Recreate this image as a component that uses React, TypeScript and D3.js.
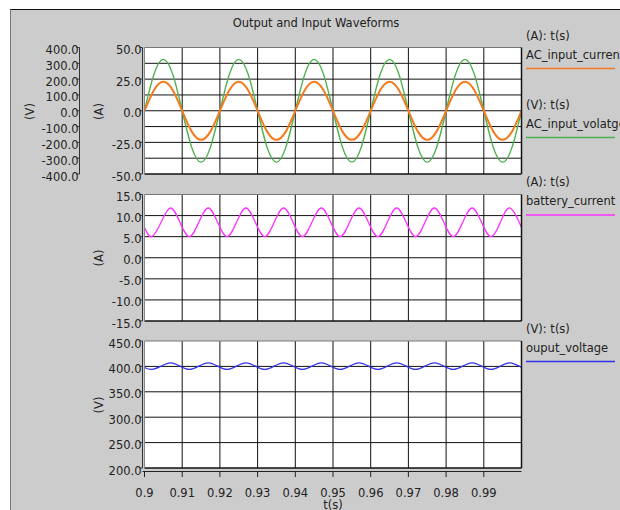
import React from 'react';
import * as d3 from 'd3';

// time samples (s)
const acTime = [
  0.9, 0.9025, 0.905, 0.9075, 0.91, 0.9125, 0.915, 0.9175, 0.92, 0.9225, 0.925, 0.9275,
  0.93, 0.9325, 0.935, 0.9375, 0.94, 0.9425, 0.945, 0.9475, 0.95, 0.9525, 0.955, 0.9575,
  0.96, 0.9625, 0.965, 0.9675, 0.97, 0.9725, 0.975, 0.9775, 0.98, 0.9825, 0.985, 0.9875,
  0.99, 0.9925, 0.995, 0.9975, 1.0,
];
const acInputCurrent = [
  0, 16.3, 23, 16.3, 0, -16.3, -23, -16.3, 0, 16.3, 23, 16.3, 0, -16.3, -23, -16.3,
  0, 16.3, 23, 16.3, 0, -16.3, -23, -16.3, 0, 16.3, 23, 16.3, 0, -16.3, -23, -16.3,
  0, 16.3, 23, 16.3, 0, -16.3, -23, -16.3, 0,
];
const acInputVoltage = [
  0, 230, 325, 230, 0, -230, -325, -230, 0, 230, 325, 230, 0, -230, -325, -230,
  0, 230, 325, 230, 0, -230, -325, -230, 0, 230, 325, 230, 0, -230, -325, -230,
  0, 230, 325, 230, 0, -230, -325, -230, 0,
];

const dcTime = [
  0.9, 0.9019, 0.9044, 0.9069, 0.9094, 0.9119, 0.9144, 0.9169, 0.9194, 0.9219, 0.9244,
  0.9269, 0.9294, 0.9319, 0.9344, 0.9369, 0.9394, 0.9419, 0.9444, 0.9469, 0.9494, 0.9519,
  0.9544, 0.9569, 0.9594, 0.9619, 0.9644, 0.9669, 0.9694, 0.9719, 0.9744, 0.9769, 0.9794,
  0.9819, 0.9844, 0.9869, 0.9894, 0.9919, 0.9944, 0.9969, 0.9994, 1.0,
];
const batteryCurrent = [
  7.15, 5.0, 8.4, 11.8, 8.4, 5.0, 8.4, 11.8, 8.4, 5.0, 8.4, 11.8, 8.4, 5.0, 8.4, 11.8, 8.4,
  5.0, 8.4, 11.8, 8.4, 5.0, 8.4, 11.8, 8.4, 5.0, 8.4, 11.8, 8.4, 5.0, 8.4, 11.8, 8.4,
  5.0, 8.4, 11.8, 8.4, 5.0, 8.4, 11.8, 8.4, 7.15,
];
const outputVoltage = [
  398, 394, 400.5, 407, 400.5, 394, 400.5, 407, 400.5, 394, 400.5, 407, 400.5, 394, 400.5, 407, 400.5,
  394, 400.5, 407, 400.5, 394, 400.5, 407, 400.5, 394, 400.5, 407, 400.5, 394, 400.5, 407, 400.5,
  394, 400.5, 407, 400.5, 394, 400.5, 407, 400.5, 398,
];

const timeTicks = [0.9, 0.91, 0.92, 0.93, 0.94, 0.95, 0.96, 0.97, 0.98, 0.99];
const ampTicks1 = [-50, -25, 0, 25, 50];
const voltTicks1 = [-400, -300, -200, -100, 0, 100, 200, 300, 400];
const ampTicks2 = [-15, -10, -5, 0, 5, 10, 15];
const voltTicks3 = [200, 250, 300, 350, 400, 450];

const W = 620;
const H = 510;
const FONT = 'DejaVu Sans, Verdana, sans-serif';
const FS = 11.5;
const TXT = '#222';

const x = d3.scaleLinear().domain([0.9, 1.0]).range([144.5, 521.5]);

const fmt = (v: number) => v.toFixed(1);

type Series = { t: number[]; v: number[]; color: string; width: number; scale: d3.ScaleLinear<number, number> };

function Plot({ id, top, bottom, domain, ticks, grid, series }: {
  id: string; top: number; bottom: number; domain: [number, number]; ticks: number[]; grid: number[];
  series: (y: d3.ScaleLinear<number, number>) => Series[];
}) {
  const y = d3.scaleLinear().domain(domain).range([bottom, top]);
  const [x0, x1] = x.range();
  const ax = x0 - 2;
  return (
    <g>
      <defs>
        <clipPath id={id}>
          <rect x={x0} y={top} width={x1 - x0} height={bottom - top} />
        </clipPath>
      </defs>
      <rect x={x0} y={top} width={x1 - x0} height={bottom - top} fill="#fff" />
      {grid.map((g) => (
        <line key={'h' + g} x1={x0} x2={x1} y1={y(g)} y2={y(g)} stroke="#111" strokeWidth={1} />
      ))}
      {timeTicks.slice(1).map((t) => (
        <line key={'v' + t} x1={x(t)} x2={x(t)} y1={top} y2={bottom} stroke="#111" strokeWidth={1} />
      ))}
      <g clipPath={`url(#${id})`}>
        {series(y).map((s, i) => {
          const pts = s.t.map((t, k) => [t, s.v[k]] as [number, number]);
          const path = d3.line<[number, number]>()
            .x((d) => x(d[0]))
            .y((d) => s.scale(d[1]))
            .curve(d3.curveNatural)(pts);
          return <path key={i} d={path || ''} fill="none" stroke={s.color} strokeWidth={s.width} />;
        })}
      </g>
      <line x1={x0} x2={x1} y1={top} y2={top} stroke="#777" />
      <line x1={x1} x2={x1} y1={top} y2={bottom} stroke="#111" strokeWidth={1.5} />
      <line x1={x0} x2={x1} y1={bottom} y2={bottom} stroke="#111" strokeWidth={1.5} />
      <line x1={x0} x2={x0} y1={top} y2={bottom} stroke="#888" />
      <line x1={ax} x2={ax} y1={top} y2={bottom} stroke="#333" />
      {ticks.map((v) => (
        <g key={'t' + v}>
          <line x1={ax - 3} x2={ax} y1={y(v)} y2={y(v)} stroke="#333" />
          <text x={ax - 1} y={y(v) + 6.5} textAnchor="end" fontSize={FS} fontFamily={FONT} fill={TXT}>
            {fmt(v)}
          </text>
        </g>
      ))}
    </g>
  );
}

const legend = [
  { unit: '(A): t(s)', name: 'AC_input_current', color: '#f47b20', y: 35 },
  { unit: '(V): t(s)', name: 'AC_input_volatge', color: '#4cb04c', y: 104 },
  { unit: '(A): t(s)', name: 'battery_current', color: '#ff33ff', y: 181.5 },
  { unit: '(V): t(s)', name: 'ouput_voltage', color: '#3333ee', y: 328 },
];

export default function App() {
  const vAxis = d3.scaleLinear().domain([-400, 400]).range([174, 47.5]);
  const lx = 526;
  return (
    <svg width={W} height={H} style={{ position: 'absolute', left: 0, top: 0 }}>
      <rect x={10} y={9.5} width={W} height={H} fill="#cccccc" />
      <line x1={10} x2={W} y1={9.5} y2={9.5} stroke="#111" />
      <line x1={10.5} x2={10.5} y1={9.5} y2={H} stroke="#777" />
      <text x={316} y={26.5} textAnchor="middle" fontSize={FS} fontFamily={FONT} fill={TXT}>
        Output and Input Waveforms
      </text>

      {/* secondary voltage axis for the top panel */}
      <line x1={79.5} x2={79.5} y1={47.5} y2={174} stroke="#333" />
      {voltTicks1.map((v) => (
        <g key={'va' + v}>
          <line x1={76.5} x2={79.5} y1={vAxis(v)} y2={vAxis(v)} stroke="#333" />
          <text x={78.5} y={vAxis(v) + 6.5} textAnchor="end" fontSize={FS} fontFamily={FONT} fill={TXT}>
            {fmt(v)}
          </text>
        </g>
      ))}
      <text transform="translate(34,111.5) rotate(-90)" textAnchor="middle" fontSize={FS} fontFamily={FONT} fill={TXT}>(V)</text>

      <Plot
        id="c1" top={47.5} bottom={174} domain={[-50, 50]} ticks={ampTicks1}
        grid={[-37.5, -25, -12.5, 0, 12.5, 25, 37.5]}
        series={(y) => [
          { t: acTime, v: acInputVoltage, color: '#4cb04c', width: 1.4, scale: vAxis },
          { t: acTime, v: acInputCurrent, color: '#f47b20', width: 2, scale: y },
        ]}
      />
      <text transform="translate(103,111.5) rotate(-90)" textAnchor="middle" fontSize={FS} fontFamily={FONT} fill={TXT}>(A)</text>

      <Plot
        id="c2" top={194.5} bottom={321} domain={[-15, 15]} ticks={ampTicks2}
        grid={[-10, -5, 0, 5, 10]}
        series={(y) => [{ t: dcTime, v: batteryCurrent, color: '#ff33ff', width: 1.3, scale: y }]}
      />
      <text transform="translate(103,258) rotate(-90)" textAnchor="middle" fontSize={FS} fontFamily={FONT} fill={TXT}>(A)</text>

      <Plot
        id="c3" top={341} bottom={468} domain={[200, 450]} ticks={voltTicks3}
        grid={[250, 300, 350, 400]}
        series={(y) => [{ t: dcTime, v: outputVoltage, color: '#3333ee', width: 1.2, scale: y }]}
      />
      <text transform="translate(103,405) rotate(-90)" textAnchor="middle" fontSize={FS} fontFamily={FONT} fill={TXT}>(V)</text>

      {/* time axis */}
      <line x1={142.5} x2={x(1.0)} y1={471.5} y2={471.5} stroke="#222" strokeWidth={1.2} />
      {timeTicks.map((t) => (
        <g key={'x' + t}>
          <line x1={x(t)} x2={x(t)} y1={471.5} y2={477} stroke="#222" />
          <text x={x(t)} y={496.5} textAnchor="middle" fontSize={FS} fontFamily={FONT} fill={TXT}>
            {String(t)}
          </text>
        </g>
      ))}
      <text x={333} y={508.5} textAnchor="middle" fontSize={FS} fontFamily={FONT} fill={TXT}>t(s)</text>

      {legend.map((l) => (
        <g key={l.name}>
          <text x={lx} y={l.y + 4.5} fontSize={FS} fontFamily={FONT} fill={TXT}>{l.unit}</text>
          <text x={lx} y={l.y + 23.5} fontSize={FS} fontFamily={FONT} fill={TXT}>{l.name}</text>
          <line x1={lx} x2={615} y1={l.y + 33.5} y2={l.y + 33.5} stroke={l.color} strokeWidth={1.3} />
        </g>
      ))}
    </svg>
  );
}
